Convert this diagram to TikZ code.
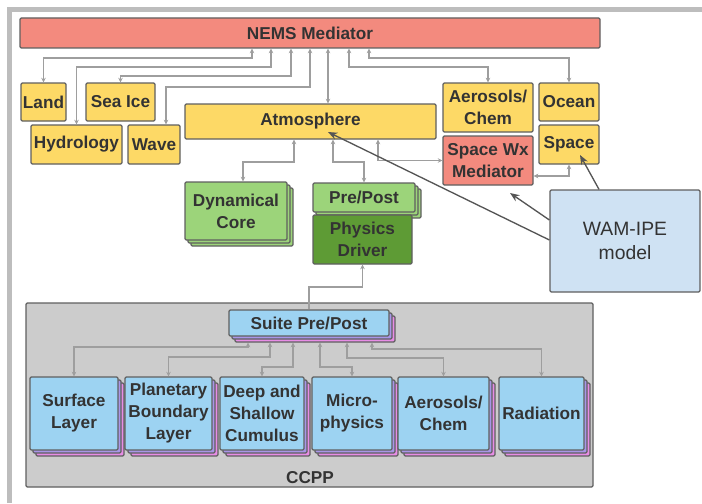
\documentclass[tikz,border=0pt]{standalone}
\usepackage{fontspec}
\setmainfont{Liberation Sans}
\usetikzlibrary{arrows.meta,shadows}
\definecolor{nemsred}{HTML}{F38A7E}
\definecolor{boxyellow}{HTML}{FDD966}
\definecolor{lgreen}{HTML}{9CD47A}
\definecolor{dgreen}{HTML}{5E9B35}
\definecolor{lblue}{HTML}{9DD3F2}
\definecolor{lpurple}{HTML}{A996E8}
\definecolor{lpink}{HTML}{E88DE6}
\definecolor{wamblue}{HTML}{CFE2F3}
\definecolor{ccppgray}{HTML}{CCCCCC}
\definecolor{edgegray}{HTML}{5F5F5F}
\definecolor{linkgray}{HTML}{9E9E9E}
\definecolor{wamgray}{HTML}{555555}
\definecolor{framegray}{HTML}{BDBDBD}
\definecolor{txtgray}{HTML}{333333}
\tikzset{
	sz/.style 2 args={minimum width=#1*0.75pt, minimum height=#2*0.75pt},
	box/.style={draw=edgegray, line width=0.9pt, rounded corners=1pt, align=center, inner sep=0pt},
	redbox/.style={box, fill=nemsred},
	yellowbox/.style={box, fill=boxyellow},
	greenstack/.style={box, fill=lgreen,
		copy shadow={shadow xshift=4.5pt, shadow yshift=-4.5pt, fill=lgreen, draw=edgegray, line width=0.9pt},
		copy shadow={shadow xshift=2.25pt, shadow yshift=-2.25pt, fill=lgreen, draw=edgegray, line width=0.9pt}},
	bluestack/.style={box, fill=lblue,
		copy shadow={shadow xshift=4.5pt, shadow yshift=-4.5pt, fill=lpink, draw=edgegray, line width=0.9pt},
		copy shadow={shadow xshift=2.25pt, shadow yshift=-2.25pt, fill=lpurple, draw=edgegray, line width=0.9pt}},
	link/.style={draw=linkgray, line width=1.1pt, >={Stealth[length=3.5pt,width=3.5pt]}},
	wamlink/.style={draw=wamgray, line width=1pt, -{Stealth[length=7pt,width=5.5pt]}}
}

\begin{document}
\begin{tikzpicture}[x=0.75pt,y=-0.75pt,
	font=\bfseries\fontsize{12.9}{16.5}\selectfont, text=txtgray]

	\useasboundingbox (0,0) rectangle (702,503);
	\draw[framegray, line width=3.75pt] (702,9.5) -- (9.5,9.5) -- (9.5,503);

	% coupled components
	\path (310,33) node(nems)[redbox, sz={580}{30}]{NEMS Mediator}
		(43.5,102) node(land)[yellowbox, sz={45}{38}]{Land}
		(120.5,102) node(seaice)[yellowbox, sz={69}{38}]{Sea Ice}
		(76.5,144.5) node(hydro)[yellowbox, sz={91}{39}]{Hydrology}
		(154,144.5) node(wave)[yellowbox, sz={52}{39}]{Wave}
		(310.5,121.5) node(atm)[yellowbox, sz={251}{35}]{Atmosphere}
		(488,107.5) node(aerotop)[yellowbox, sz={90}{49}]{Aerosols/\\Chem}
		(569,102) node(ocean)[yellowbox, sz={60}{38}]{Ocean}
		(488,160.5) node(swx)[redbox, sz={90}{49}]{Space Wx\\Mediator}
		(569,144.5) node(space)[yellowbox, sz={60}{39}]{Space};

	% atmosphere parts
	\path (236,211) node(dyncore)[greenstack, sz={102}{58}]{Dynamical\\Core}
		(364,197.5) node(prepost)[greenstack, sz={102}{29}]{Pre/Post}
		(362.5,239.5) node(physdrv)[box, fill=dgreen, sz={99}{49}]{Physics\\Driver}
		(625,241) node(wam)[box, fill=wamblue, sz={150}{102}, font=\fontsize{14.5}{18}\selectfont]{WAM-IPE\\model};

	% CCPP
	\path (309.5,395) node(ccpp)[box, fill=ccppgray, sz={567}{184}]{}
		(310,478) node(ccpplabel){CCPP}
		(309,323) node(suite)[bluestack, sz={160}{26}]{Suite Pre/Post}
		(74,413.5) node(sfc)[bluestack, sz={88}{73}]{Surface\\Layer}
		(168.5,413.5) node(pbl)[bluestack, sz={87}{73}]{Planetary\\Boundary\\Layer}
		(262,413.5) node(cumulus)[bluestack, sz={84}{73}]{Deep and\\Shallow\\Cumulus}
		(352,413.5) node(micro)[bluestack, sz={80}{73}]{Micro-\\physics}
		(443.5,413.5) node(aero)[bluestack, sz={91}{73}]{Aerosols/\\Chem}
		(541.5,413.5) node(rad)[bluestack, sz={85}{73}]{Radiation};

	\coordinate (sb) at ([yshift=-4.5pt]suite.south);
	\coordinate (spacetip) at (580,155);
	\coordinate (swxtip) at (510,193);
	\coordinate (atmtip) at (328,132);

	% mediator links
	\draw[link,<->] (land.north) |- (252,58) -- (nems.south -| 252,0);
	\draw[link,<->] (hydro.north) |- (271,67) -- (nems.south -| 271,0);
	\draw[link,<->] (seaice.north) |- (291,76) -- (nems.south -| 291,0);
	\draw[link,<->] (wave.north -| 166,0) |- (310,87) -- (nems.south -| 310,0);
	\draw[link,<->] (atm.north -| 328,0) -- (nems.south -| 328,0);
	\draw[link,<->] (aerotop.north) |- (349,67) -- (nems.south -| 349,0);
	\draw[link,<->] (ocean.north) |- (369,58) -- (nems.south -| 369,0);

	% atmosphere links
	\draw[link,<->] (dyncore.north -| 243,0) |- (294,162) -- (atm.south -| 294,0);
	\draw[link,<->] (prepost.north) |- (333,162) -- (atm.south -| 333,0);
	\draw[link,<->] (swx.west) -| (atm.south -| 378,0);
	\draw[link,<->] (swx.east |- 0,176) -| (space.south);
	\draw[link,<-] (physdrv.south) |- (309,287) -- (suite.north -| 309,0);

	% WAM-IPE
	\draw[wamlink] (wam.north -| 599,0) -- (spacetip);
	\draw[wamlink] (wam.west |- 0,220) -- (swxtip);
	\draw[wamlink] (wam.west |- 0,240) -- (atmtip);

	% suite links
	\draw[link,<->] (sfc.north) |- (248,347) -- (sb -| 248,0);
	\draw[link,<->] (pbl.north) |- (270,357) -- (sb -| 270,0);
	\draw[link,<->] (cumulus.north) |- (293,367) -- (sb -| 293,0);
	\draw[link,<->] (micro.north) |- (320,367) -- (sb -| 320,0);
	\draw[link,<->] (aero.north) |- (347,358) -- (sb -| 347,0);
	\draw[link,<->] (rad.north) |- (372,349) -- (sb -| 372,0);
\end{tikzpicture}
\end{document}
